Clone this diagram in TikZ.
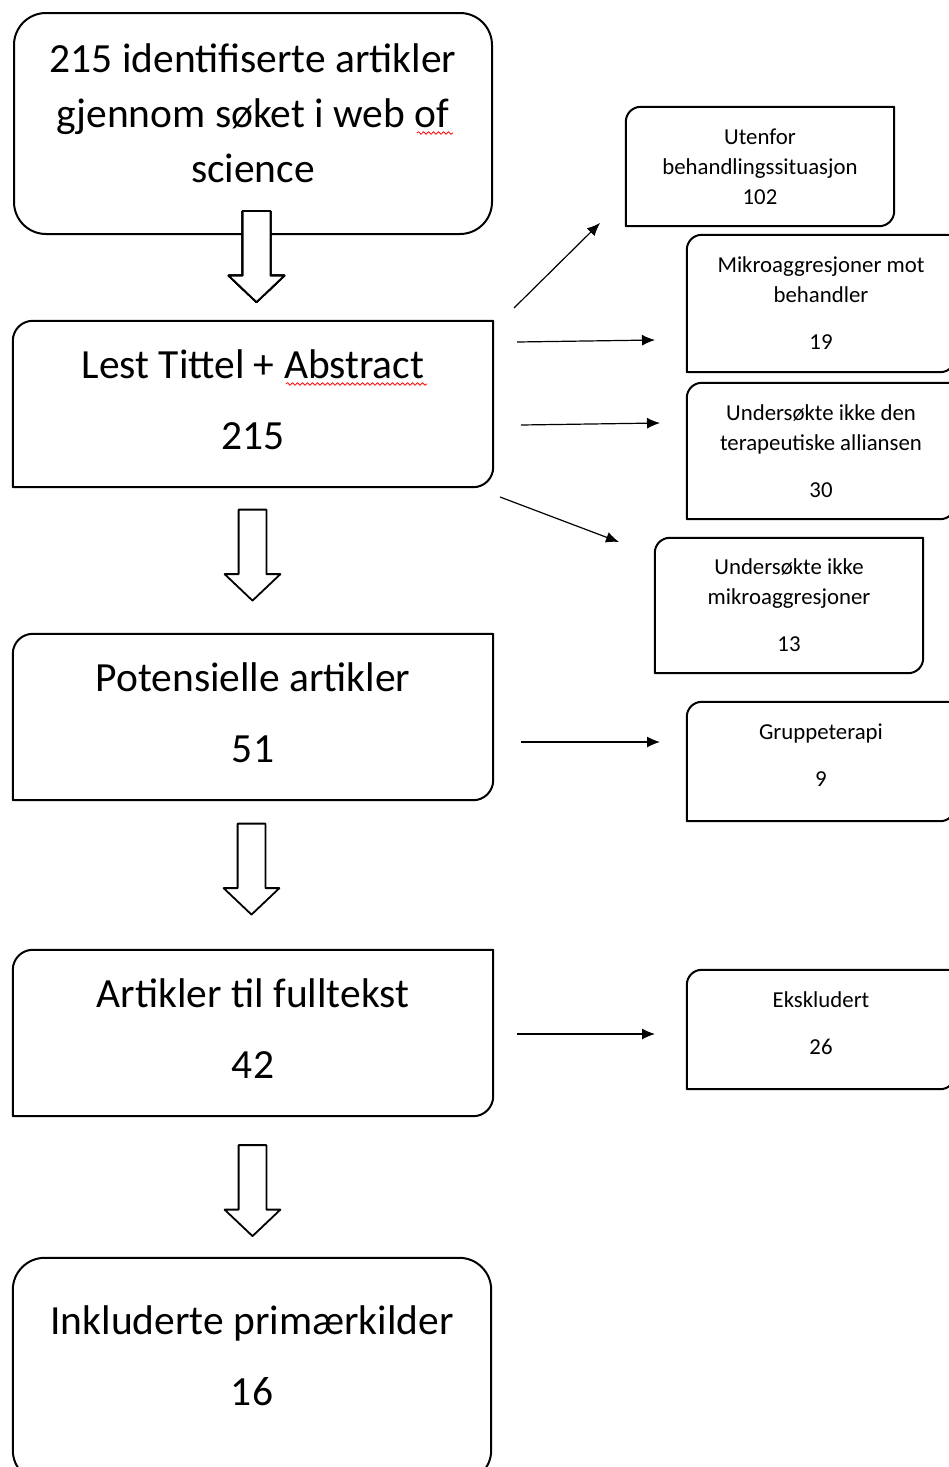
\documentclass[tikz,border=0pt]{standalone}
\usepackage{fontspec}
\setmainfont{Carlito}
\usetikzlibrary{arrows.meta,shapes.arrows,decorations.pathmorphing}

\newcommand{\bigtxt}{\fontsize{41.5}{55}\selectfont}
\newcommand{\smalltxt}{\fontsize{22.8}{30}\selectfont}
% outline with round top left and bottom right corners
\newcommand{\diagframe}[2]{%
  \draw[line width=2pt] (#1.north east) -- ([xshift=#2]#1.north west)
    arc[start angle=90,end angle=180,radius=#2] -- (#1.south west)
    -- ([xshift=-#2]#1.south east) arc[start angle=270,end angle=360,radius=#2] -- cycle;}

\tikzset{
  stepbox/.style={minimum width=480pt, minimum height=166pt, inner sep=0pt, align=center,
    font=\bigtxt, text depth=9pt},
  sidebox/.style={minimum width=268pt, inner sep=0pt, align=center, font=\smalltxt},
  downarrow/.style={single arrow, draw, line width=1.8pt, fill=white, rotate=-90,
    minimum height=91pt, inner xsep=0pt, inner ysep=13pt,
    single arrow head extend=14pt, single arrow tip angle=93},
  thinarrow/.style={line width=1.2pt, -{Latex[length=13pt,width=11pt]}},
  squiggle/.style={red, line width=0.8pt, decorate, decoration={snake, amplitude=1.3pt, segment length=5pt}},
}

\begin{document}
\begin{tikzpicture}
\begin{scope}[x=1pt, y=1pt, line join=round]
  \useasboundingbox (0,0) rectangle (949,-1467);
  % Main column
  \node[draw, line width=2pt, rounded corners=32pt, minimum width=478pt, minimum height=221pt,
    inner sep=0pt, align=center, font=\bigtxt, text depth=20pt] (search) at (253,-123.5)
    {215 identifiserte artikler\\gjennom søket i web of\\science};
  \node[stepbox] (lest) at (253,-404) {Lest Tittel + Abstract\\[16pt]215};
  \node[stepbox] (pot) at (253,-717) {Potensielle artikler\\[16pt]51};
  \node[stepbox] (full) at (253,-1033) {Artikler til fulltekst\\[16pt]42};
  \node[stepbox, minimum width=478pt, minimum height=204pt] (inkl) at (252,-1360)
    {Inkluderte primærkilder\\[16pt]16};
  \diagframe{lest}{20pt}
  \diagframe{pot}{20pt}
  \diagframe{full}{20pt}
  \draw[line width=2pt, rounded corners=32pt] (inkl.north west) rectangle ([yshift=-20pt]inkl.south east);
  % Excluded
  \node[sidebox, minimum height=119pt] (uten) at (760,-166.5) {Utenfor\\behandlingssituasjon\\102};
  \node[sidebox, minimum height=137pt] (motb) at (821,-303.5) {Mikroaggresjoner mot\\behandler\\[17pt]19};
  \node[sidebox, minimum height=136pt, text depth=-4pt] (alli) at (821,-451) {Undersøkte ikke den\\terapeutiske alliansen\\[17pt]30};
  \node[sidebox, minimum height=135pt] (ikkem) at (789,-605.5) {Undersøkte ikke\\mikroaggresjoner\\[17pt]13};
  \node[sidebox, minimum height=119pt, text depth=12pt] (grp) at (821,-761.5) {Gruppeterapi\\[17pt]9};
  \node[sidebox, minimum height=119pt, text depth=12pt] (eks) at (821,-1029.5) {Ekskludert\\[17pt]26};
  \foreach \b in {uten,motb,alli,ikkem,grp,eks}
    \diagframe{\b}{15pt}
  % Block arrows
  \node[downarrow] (arrA) at (256.5,-250) {};
  \node[downarrow] (arrB) at (252.5,-548.5) {};
  \node[downarrow] (arrC) at (251.5,-862.5) {};
  \node[downarrow] (arrD) at (252.5,-1184) {};
  % Thin arrows
  \coordinate (t1a) at (514,-308);  \coordinate (t1b) at (600,-223);
  \coordinate (t2a) at (517,-342);  \coordinate (t2b) at (655,-340);
  \coordinate (t3a) at (521,-425);  \coordinate (t3b) at (660,-423);
  \coordinate (t4a) at (500,-497);  \coordinate (t4b) at (619,-542);
  \coordinate (t5a) at (521,-742);  \coordinate (t5b) at (660,-742);
  \coordinate (t6a) at (517,-1034); \coordinate (t6b) at (655,-1034);
  \foreach \i in {1,...,6}
    \draw[thinarrow] (t\i a) -- (t\i b);
  % Spelling marks
  \draw[squiggle] (417,-133) -- (453,-133);
  \draw[squiggle] (286,-384) -- (427,-384);
\end{scope}
\end{tikzpicture}
\end{document}
